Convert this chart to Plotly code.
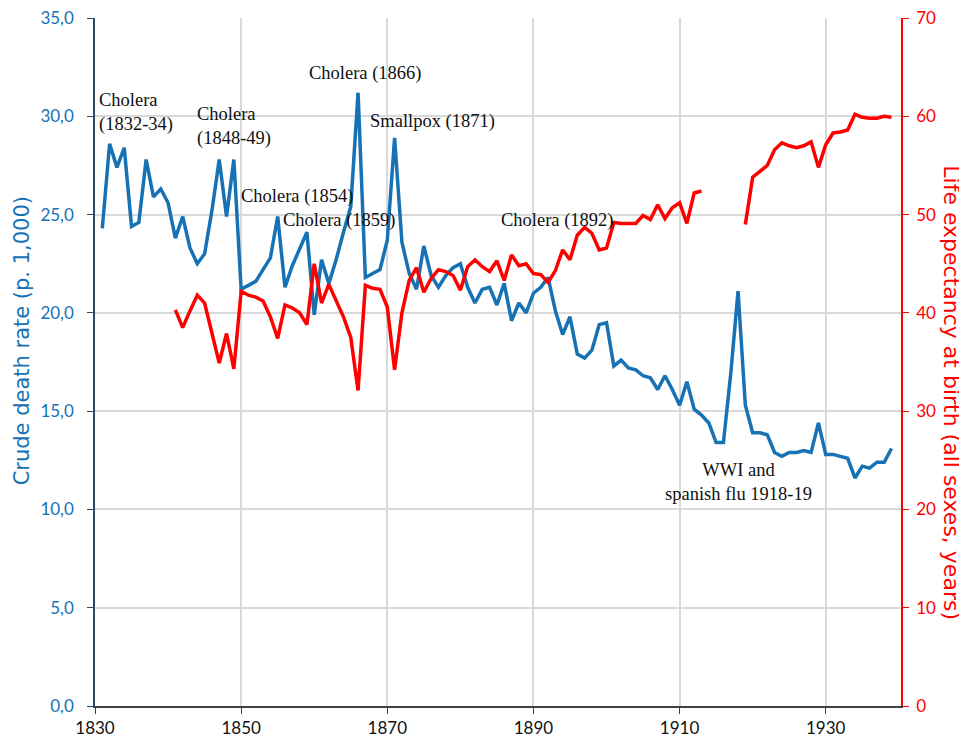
import plotly.graph_objs as go

# crude death rate (per 1,000), 1831-1939
death_years = list(range(1831, 1940))
death_rate = [
    24.3, 28.6, 27.4, 28.4, 24.4, 24.6, 27.8, 25.9, 26.3, 25.6,
    23.8, 24.9, 23.3, 22.5, 23.0, 25.2, 27.8, 24.9, 27.8, 21.2,
    21.4, 21.6, 22.2, 22.8, 24.9, 21.3, 22.4, 23.2, 24.1, 19.9,
    22.7, 21.5, 22.7, 24.1, 25.4, 31.2, 21.8, 22.0, 22.2, 23.7,
    28.9, 23.6, 22.0, 21.2, 23.4, 21.9, 21.3, 21.9, 22.3, 22.5,
    21.3, 20.5, 21.2, 21.3, 20.4, 21.5, 19.6, 20.5, 20.0, 21.0,
    21.3, 21.8, 20.1, 18.9, 19.8, 17.9, 17.7, 18.1, 19.4, 19.5,
    17.3, 17.6, 17.2, 17.1, 16.8, 16.7, 16.1, 16.8, 16.1, 15.3,
    16.5, 15.1, 14.8, 14.4, 13.4, 13.4, 16.9, 21.1, 15.3, 13.9,
    13.9, 13.8, 12.9, 12.7, 12.9, 12.9, 13.0, 12.9, 14.4, 12.8,
    12.8, 12.7, 12.6, 11.6, 12.2, 12.1, 12.4, 12.4, 13.1,
]

# life expectancy at birth, 1841-1939 (no data 1914-1918)
life_years = list(range(1841, 1940))
life_exp = [
    40.3, 38.5, 40.2, 41.8, 41.0, 37.9, 34.9, 37.9, 34.3, 42.2,
    41.8, 41.6, 41.2, 39.6, 37.4, 40.8, 40.5, 40.0, 38.8, 45.0,
    41.0, 42.9, 41.3, 39.6, 37.5, 32.1, 42.8, 42.5, 42.4, 40.6,
    34.2, 40.0, 43.3, 44.6, 42.1, 43.5, 44.4, 44.2, 43.8, 42.3,
    44.7, 45.4, 44.7, 44.2, 45.3, 43.3, 45.9, 44.8, 45.0, 44.0,
    43.9, 43.1, 44.3, 46.4, 45.4, 47.9, 48.7, 48.1, 46.4, 46.6,
    49.2, 49.1, 49.1, 49.1, 49.9, 49.5, 51.0, 49.6, 50.7, 51.2,
    49.1, 52.2, 52.4, None, None, None, None, None, 49.0, 53.8,
    54.4, 55.0, 56.6, 57.3, 57.0, 56.8, 57.0, 57.4, 54.8, 57.1,
    58.3, 58.4, 58.6, 60.2, 59.9, 59.8, 59.8, 60.0, 59.9,
]

left_ticks = [0, 5, 10, 15, 20, 25, 30, 35]
left_labels = ["0,0", "5,0", "10,0", "15,0", "20,0", "25,0", "30,0", "35,0"]

# (text, year, death-rate value, anchor) for the event labels
events = [
    ("Cholera<br>(1832-34)", 1830.3, 30.2, "left"),
    ("Cholera<br>(1848-49)", 1843.7, 29.5, "left"),
    ("Cholera (1854)", 1849.7, 25.9, "left"),
    ("Cholera (1859)", 1855.5, 24.7, "left"),
    ("Cholera (1866)", 1859.0, 32.2, "left"),
    ("Smallpox (1871)", 1867.3, 29.75, "left"),
    ("Cholera (1892)", 1885.3, 24.7, "left"),
    ("WWI and<br>spanish flu 1918-19", 1918.0, 11.4, "center"),
]

BLUE = "#1672b5"
RED = "#ff0000"

fig = go.Figure()
fig.add_trace(go.Scatter(x=death_years, y=death_rate, mode="lines",
                         line=dict(color=BLUE, width=3.5), yaxis="y"))
fig.add_trace(go.Scatter(x=life_years, y=life_exp, mode="lines",
                         line=dict(color=RED, width=3.5), yaxis="y2",
                         connectgaps=False))

for text, x, y, anchor in events:
    fig.add_annotation(x=x, y=y, xref="x", yref="y", text=text, showarrow=False,
                       xanchor=anchor, yanchor="middle", align=anchor,
                       font=dict(family="Liberation Serif", size=18.5, color="#111"))

fig.add_annotation(x=0, y=0.53, xref="paper", yref="paper", xshift=-73,
                   text="Crude death rate (p. 1,000)", textangle=-90,
                   showarrow=False, xanchor="center", yanchor="middle",
                   font=dict(family="DejaVu Sans", size=21, color=BLUE))
fig.add_annotation(x=1, y=0.456, xref="paper", yref="paper", xshift=51,
                   text="Life expectancy at birth (all sexes, years)", textangle=90,
                   showarrow=False, xanchor="center", yanchor="middle",
                   font=dict(family="DejaVu Sans", size=22, color=RED))

fig.update_layout(
    width=959, height=736,
    margin=dict(l=87, r=66, t=10, b=38),
    plot_bgcolor="white", paper_bgcolor="white",
    showlegend=False,
    font=dict(family="Lato", size=16),
    xaxis=dict(range=[1830, 1940.3], tick0=1830, dtick=20, automargin=False,
               showgrid=True, gridcolor="#d9d9d9", gridwidth=1.5,
               showline=True, linecolor="#404040", linewidth=1.5,
               ticks="outside", ticklen=6, tickcolor="#404040",
               ticklabeloverflow="allow",
               tickfont=dict(color="#111", size=17), zeroline=False),
    yaxis=dict(range=[0, 35], tickvals=left_ticks, ticktext=left_labels,
               automargin=False, ticklabeloverflow="allow", ticklabelstandoff=10,
               showgrid=True, gridcolor="#d9d9d9", gridwidth=1.5,
               showline=True, linecolor="#2a4a6a", linewidth=1.5,
               ticks="outside", ticklen=6, tickcolor="#2a4a6a",
               tickfont=dict(color=BLUE, size=17), zeroline=False),
    yaxis2=dict(range=[0, 70], dtick=10, overlaying="y", side="right",
                automargin=False, ticklabeloverflow="allow", ticklabelstandoff=4,
                showgrid=False, showline=True, linecolor=RED, linewidth=1.5,
                ticks="outside", ticklen=6, tickcolor=RED,
                tickfont=dict(color=RED, size=17), zeroline=False),
)

fig.write_html("out.html")
